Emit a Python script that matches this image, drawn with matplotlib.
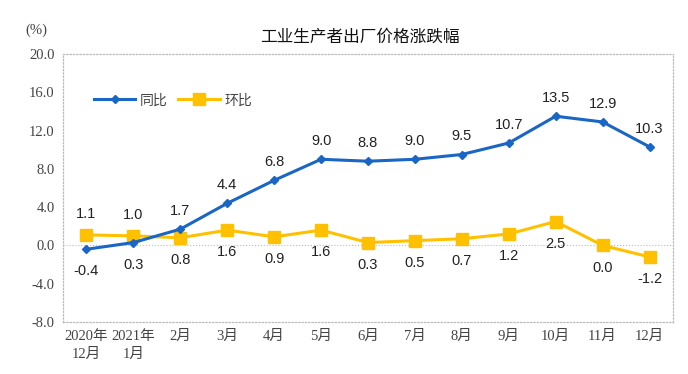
import matplotlib
matplotlib.use('Agg')
from matplotlib import pyplot as plt

months = ['2020年\n12月', '2021年\n1月', '2月', '3月', '4月', '5月', '6月',
          '7月', '8月', '9月', '10月', '11月', '12月']
yoy = [-0.4, 0.3, 1.7, 4.4, 6.8, 9.0, 8.8, 9.0, 9.5, 10.7, 13.5, 12.9, 10.3]
mom = [1.1, 1.0, 0.8, 1.6, 0.9, 1.6, 0.3, 0.5, 0.7, 1.2, 2.5, 0.0, -1.2]
yticks = [-8, -4, 0, 4, 8, 12, 16, 20]

serif = ['Liberation Serif', 'Noto Sans CJK SC']
sans = ['Liberation Sans', 'Noto Sans CJK SC']
blue = '#1a66c4'
yellow = '#ffc000'

fig = plt.figure(figsize=(6.88, 3.74), dpi=100)
ax = fig.add_axes([63/688, 1-322/374, 610/688, 268/374])
x = list(range(len(months)))

ax.plot(x, mom, color=yellow, lw=2.2, marker='s', ms=8, label='环比', zorder=3)
ax.plot(x, yoy, color=blue, lw=2.2, marker='D', ms=4, label='同比', zorder=4)

for i in x:
    ax.annotate(f'{yoy[i]:.1f}', (i, yoy[i]), xytext=(0, 13 if i > 1 else -16),
                textcoords='offset points', ha='center', va='center',
                fontsize=10.5, family=sans, color='#222222')
    ax.annotate(f'{mom[i]:.1f}', (i, mom[i]), xytext=(0, 15 if i < 2 else -16),
                textcoords='offset points', ha='center', va='center',
                fontsize=10.5, family=sans, color='#222222')

ax.axhline(0, color='#bbbbbb', lw=0.8, ls=':', zorder=1)
ax.set_xlim(-0.5, len(months) - 0.5)
ax.set_ylim(-8, 20)
ax.set_yticks(yticks)
ax.set_yticklabels([f'{v:.1f}' for v in yticks], family=serif, fontsize=10.5, color='#444444')
ax.set_xticks(x)
ax.set_xticklabels(months, family=serif, fontsize=10.5, color='#444444', linespacing=1.4)
ax.tick_params(length=0, pad=6)
for s in ax.spines.values():
    s.set_color('#bbbbbb')
    s.set_linestyle(':')
    s.set_linewidth(0.9)

h, l = ax.get_legend_handles_labels()
ax.legend(h[::-1], l[::-1], loc='upper left', bbox_to_anchor=(0.03, 0.9), ncol=2,
          frameon=False, prop={'family': sans, 'size': 10}, handlelength=3,
          columnspacing=0.8, handletextpad=0.3, labelcolor='#444444')

fig.text(0.523, 1-37/374, '工业生产者出厂价格涨跌幅', ha='center', va='center',
         family=sans, fontsize=12, color='#111111')
fig.text(36/688, 1-30/374, '(%)', ha='center', va='center', family=serif,
         fontsize=10.5, color='#444444')

fig.savefig('out.png', dpi=100, facecolor='white')
